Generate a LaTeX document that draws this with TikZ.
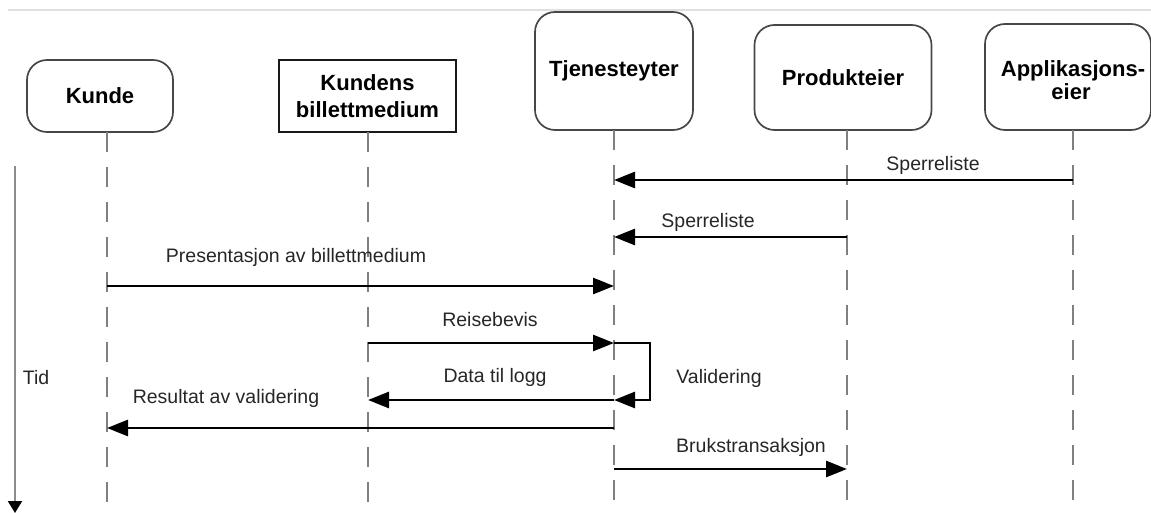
\documentclass[tikz,border=0pt]{standalone}
\usepackage{fontspec}
\setmainfont{Liberation Sans}
\usetikzlibrary{arrows.meta}
\begin{document}
\begin{tikzpicture}[x=1pt,y=-1pt,
  boxtext/.style={font=\fontsize{22}{27.5}\selectfont\bfseries, align=center, inner sep=0pt},
  actor/.style={draw=black!72, line width=1.7pt, rounded corners=20pt, inner sep=0pt, align=center,
    font=\fontsize{22}{27.5}\selectfont\bfseries},
  plainbox/.style={draw=black!90, line width=1.7pt, inner sep=0pt, align=center,
    font=\fontsize{22}{27.5}\selectfont\bfseries},
  life/.style={draw=black!50, line width=1.8pt, dash pattern=on 20pt off 15pt},
  msg/.style={draw=black, line width=2.7pt, -{Triangle[length=21pt,width=16pt]}},
  mtxt/.style={font=\fontsize{19.5}{23}\selectfont, text=black!85, inner sep=0pt}
]
\useasboundingbox (0,0) rectangle (1151,513);
\coordinate (gl1) at (8,10);
\coordinate (gl2) at (1151,10);
\draw[black!12, line width=2pt] (gl1) -- (gl2);

% participants
\node[actor, minimum width=146pt, minimum height=72pt] (kunde) at (100,96) {Kunde};
\node[plainbox, minimum width=177pt, minimum height=72pt] (medium) at (367.5,96) {Kundens\\billettmedium};
\node[actor, minimum width=158pt, minimum height=118pt] (tje) at (614,71) {Tjenesteyter};
\node[actor, minimum width=177pt, minimum height=105pt] (prod) at (843,77.5) {Produkteier};
\node[actor, minimum width=166pt, minimum height=106pt] (app) at (1068,77) {};
\node[boxtext] (appt1) at (1073,71) {Applikasjons-};
\node[boxtext] (appt2) at (1071,92) {eier};

% lifelines
\coordinate (kx) at (107,132);   \coordinate (kb) at (107,510);
\coordinate (mx) at (368,132);   \coordinate (mb) at (368,510);
\coordinate (tx) at (614,130);   \coordinate (tb) at (614,510);
\coordinate (px) at (847,130);   \coordinate (pb) at (847,510);
\coordinate (ax) at (1073,130);  \coordinate (ab) at (1073,510);
\draw[life] (kx) -- (kb);
\draw[life] (mx) -- (mb);
\draw[life] (tx) -- (tb);
\draw[life] (px) -- (pb);
\draw[life] (ax) -- (ab);

% time axis
\coordinate (t1) at (15,166);
\coordinate (t2) at (15,513);
\draw[draw=black!45, line width=2.2pt, -{Triangle[length=12pt,width=14pt,color=black]}] (t1) -- (t2);
\node[mtxt] (tid) at (36,378) {Tid};

% messages
\draw[msg] (ax |- 0,180) -- (tx |- 0,180);
\node[mtxt] (s1) at (933,165) {Sperreliste};

\draw[msg] (px |- 0,237) -- (tx |- 0,237);
\node[mtxt] (s2) at (708,222) {Sperreliste};

\draw[msg] (kx |- 0,286) -- (tx |- 0,286);
\node[mtxt] (pres) at (296,257) {Presentasjon av billettmedium};

\draw[msg] (mx |- 0,343) -- (tx |- 0,343);
\node[mtxt] (reise) at (490,320) {Reisebevis};

\coordinate (loop) at (650,343);
\draw[msg] (tx |- 0,343) -- (loop) -- (loop |- 0,400) -- (tx |- 0,400);
\node[mtxt] (val) at (719,378) {Validering};

\draw[msg] (tx |- 0,400) -- (mx |- 0,400);
\node[mtxt] (logg) at (495,377) {Data til logg};

\draw[msg] (tx |- 0,428) -- (kx |- 0,428);
\node[mtxt] (res) at (226,398) {Resultat av validering};

\draw[msg] (tx |- 0,469) -- (px |- 0,469);
\node[mtxt] (bruk) at (751,447) {Brukstransaksjon};
\end{tikzpicture}
\end{document}
